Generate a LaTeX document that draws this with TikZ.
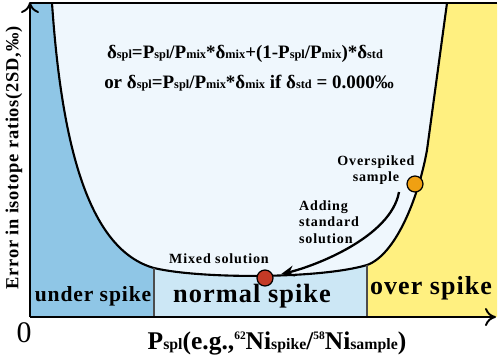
\documentclass[tikz,border=0pt]{standalone}
\usepackage{fontspec}
\setmainfont{Liberation Serif}
\usetikzlibrary{arrows.meta, positioning}
\definecolor{underblue}{HTML}{8FC6E6}
\definecolor{normalblue}{HTML}{CCE7F5}
\definecolor{innerblue}{HTML}{EFF7FD}
\definecolor{overyellow}{HTML}{FFF080}
\definecolor{mixred}{HTML}{C43A26}
\definecolor{spikeorange}{HTML}{F0A012}
\newcommand{\lo}[1]{{\fontsize{7}{7}\selectfont #1}}
\newcommand{\xlo}[1]{{\fontsize{9}{9}\selectfont #1}}
\newcommand{\hi}[1]{\raisebox{0.85ex}{\fontsize{6.5}{6.5}\selectfont #1}}

\begin{document}
\begin{tikzpicture}[
  x=0.2mm, y=-0.2mm,
  >=Stealth,
  dot/.style={circle, minimum size=3.2mm, draw=black, line width=0.7pt, inner sep=0pt},
  note/.style={font=\fontsize{8}{9.5}\selectfont\bfseries\addfontfeature{LetterSpace=6}, align=center, inner sep=0pt},
  zone/.style={font=\fontsize{#1}{#1}\selectfont\bfseries\addfontfeature{LetterSpace=4}, inner sep=0pt},
  formula/.style={font=\fontsize{10.8}{12}\selectfont\bfseries, inner sep=0pt},
  edge/.style={draw=black!70, line width=0.6pt},
  axis/.style={->, line width=1.1pt, >={To[length=2.2mm, width=3.6mm]}},
  flow/.style={->, line width=1.3pt, >={Stealth[length=2.6mm, width=2.2mm]}}
]
\useasboundingbox (0,0) rectangle (500,362);

% ---- Regions ----
\fill[innerblue] (30,3) rectangle (497,317);
\fill[underblue] (30,3) -- (52,3) .. controls (62,150) and (90,250) .. (154,268)
  -- (154,317) -- (30,317) -- cycle;
\fill[normalblue] (154,268) .. controls (200,279) and (320,279) .. (367,265)
  -- (367,317) -- (154,317) -- cycle;
\fill[overyellow] (447,3) -- (427,150) .. controls (418,200) and (395,255) .. (367,265)
  -- (367,317) -- (497,317) -- (497,3) -- cycle;

% ---- Error curve ----
\draw[line width=1.2pt] (52,3) .. controls (62,150) and (90,250) .. (154,268)
  .. controls (200,279) and (320,279) .. (367,265)
  .. controls (395,255) and (418,200) .. (427,150) -- (447,3);
\draw[edge] (154,268) -- (154,317);
\draw[edge] (367,265) -- (367,317);

% ---- Axes ----
\draw[line width=1.1pt] (30,3) -- (497,3);
\coordinate (origin) at (30,317);
\draw[axis] (origin) -- (30,2);
\draw[axis] (origin) -- (496,317);
\node[font=\fontsize{17}{17}\selectfont] (zero) at (24,333) {0};
\node[font=\fontsize{14.5}{15}\selectfont\bfseries] (xlabel) at (277,343)
  {P\xlo{spl}(e.g.,\hi{62}Ni\xlo{spike}/\hi{58}Ni\xlo{sample})};
\node[font=\fontsize{10.5}{11}\selectfont\bfseries\addfontfeature{LetterSpace=4}, rotate=90] (ylabel) at (14,158)
  {Error in isotope ratios(2SD,‰)};

% ---- Formulas ----
\node[formula] (eqa) at (245,54)
  {δ\lo{spl}=P\lo{spl}/P\lo{mix}*δ\lo{mix}+(1-P\lo{spl}/P\lo{mix})*δ\lo{std}};
\node[formula] (eqb) at (249,83)
  {or δ\lo{spl}=P\lo{spl}/P\lo{mix}*δ\lo{mix} if δ\lo{std} = 0.000‰};

% ---- Zone labels ----
\node[zone=12.3] (under) at (93,296) {under spike};
\node[zone=15] (normal) at (252,296) {normal spike};
\node[zone=14.8] (over) at (431,288) {over spike};

% ---- Samples ----
\node[dot, fill=mixred] (mix) at (265,278) {};
\node[dot, fill=spikeorange] (spiked) at (415,184) {};
\node[note] (mixlabel) at (219,259) {Mixed solution};
\node[note] (spikedlabel) at (376,170) {Overspiked\\sample};
\node[note, align=left] (addlabel) at (329,222) {Adding\\standard\\solution};

% ---- Adding standard ----
\coordinate (addtop) at (399,192);
\draw[flow, shorten >=4.5pt] (addtop) .. controls +(-8,45) and +(50,-12) .. (mix);

\end{tikzpicture}
\end{document}
